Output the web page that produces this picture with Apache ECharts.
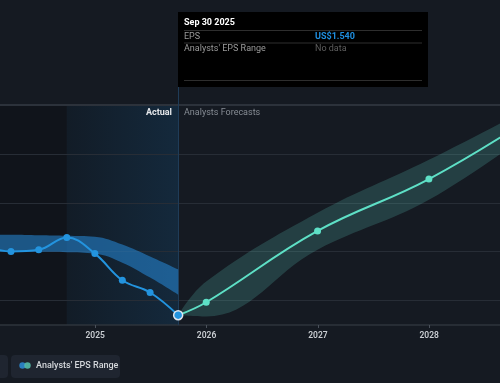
<!DOCTYPE html>
<html>
<head>
<meta charset="utf-8">
<style>
  html, body { margin: 0; padding: 0; background: #151a22; }
  #chart { width: 500px; height: 383px; }
</style>
<script src="https://cdn.jsdelivr.net/npm/echarts@6/dist/echarts.min.js"></script>
</head>
<body>
<div id="chart"></div>
<script>
// ---- data ----
const actualDates = ['2023-12-31', '2024-03-31', '2024-06-30', '2024-09-30', '2024-12-31', '2025-03-31', '2025-06-30', '2025-09-30'];
const actualEps   = [1.825, 1.801, 1.808, 1.858, 1.792, 1.683, 1.633, 1.540];
const pastRangeLow  = [1.800, 1.800, 1.800, 1.798, 1.792, 1.755, 1.694, 1.624];
const pastRangeHigh = [1.869, 1.869, 1.867, 1.865, 1.861, 1.829, 1.780, 1.727];

const forecastDates = ['2025-09-30', '2025-12-31', '2026-12-31', '2027-12-31', '2028-12-31'];
const forecastEps   = [1.540, 1.593, 1.885, 2.097, 2.372];
const forecastLow   = [1.540, 1.535, 1.808, 2.012, 2.318];
const forecastHigh  = [1.540, 1.678, 1.959, 2.176, 2.412];

const gridValues = [1.6, 1.8, 2.0, 2.2];
const topGridValue = 2.4;
const xStart = '2024-02-24';
const xEnd = '2028-08-20';
const ltmStart = '2024-09-30';
const selectedDate = '2025-09-30';

// ---- helpers ----
const pairs = (d, v) => d.map((x, i) => [x, v[i]]);
const diffs = (hi, lo) => hi.map((h, i) => +(h - lo[i]).toFixed(4));
const monthNames = ['Jan','Feb','Mar','Apr','May','Jun','Jul','Aug','Sep','Oct','Nov','Dec'];
function fmtDate(s) { const p = s.split('-'); return monthNames[+p[1] - 1] + ' ' + (+p[2]) + ' ' + p[0]; }

const FONT = 'Roboto, "Noto Sans", sans-serif';
const BLUE = '#2394df';
const TEAL = '#5ee0c6';

const chart = echarts.init(document.getElementById('chart'), null, { renderer: 'canvas' });

const option = {
  backgroundColor: '#151a22',
  animation: false,
  grid: { left: 0, right: 0, top: 105, bottom: 58 },
  xAxis: {
    type: 'time',
    min: xStart,
    max: xEnd,
    minInterval: 365 * 86400000,
    axisLine: { lineStyle: { color: '#2e343d', width: 1.5 } },
    axisTick: { show: true, length: 3, lineStyle: { color: '#4a515b' } },
    axisLabel: { formatter: '{yyyy}', color: '#c9cdd2', fontSize: 8.5, fontWeight: 600, fontFamily: FONT, margin: 6, showMinLabel: false, showMaxLabel: false },
    splitLine: { show: false }
  },
  yAxis: {
    type: 'value', min: 1.5, max: 2.4, show: false, splitLine: { show: false }
  },
  series: [
    { // background shading (past / last twelve months)
      type: 'line', data: [], z: 0, silent: true,
      markArea: {
        silent: true, z: 0,
        data: [
          [{ xAxis: xStart, itemStyle: { color: 'rgba(0,0,0,0.2)' } }, { xAxis: ltmStart }],
          [{ xAxis: ltmStart, itemStyle: { color: new echarts.graphic.LinearGradient(0, 0, 1, 0, [
              { offset: 0, color: '#121c27' }, { offset: 1, color: '#14293c' }]) } },
           { xAxis: selectedDate }]
        ]
      }
    },
    { // horizontal gridlines and selected-date line
      type: 'line', data: [], z: 1, silent: true,
      markLine: {
        silent: true, symbol: 'none', label: { show: false }, z: 1,
        lineStyle: { color: '#272d36', width: 1, type: 'solid' },
        data: gridValues.map(v => ({ yAxis: v }))
          .concat([{ yAxis: topGridValue, lineStyle: { color: '#2c323b', width: 2, type: 'solid' } }])
          .concat([{ xAxis: selectedDate, lineStyle: { color: '#1f3c58', width: 1, type: 'solid' } }])
      }
    },
    { // past analysts range lower (invisible)
      name: 'pastLow', type: 'line', stack: 'past', smooth: 0.4, symbol: 'none', z: 3,
      data: pairs(actualDates, pastRangeLow), lineStyle: { opacity: 0 }
    },
    { // past analysts range band
      name: "Analysts' EPS Range", type: 'line', stack: 'past', smooth: 0.4, symbol: 'none', z: 3,
      data: pairs(actualDates, diffs(pastRangeHigh, pastRangeLow)),
      lineStyle: { opacity: 0 },
      areaStyle: { color: 'rgba(36,130,205,0.6)', opacity: 1 }
    },
    { // forecast range lower (invisible)
      name: 'fcLow', type: 'line', stack: 'fc', smooth: 0.4, symbol: 'none', z: 3,
      data: pairs(forecastDates, forecastLow), lineStyle: { opacity: 0 }
    },
    { // forecast range band
      name: 'fcBand', type: 'line', stack: 'fc', smooth: 0.4, symbol: 'none', z: 3,
      data: pairs(forecastDates, diffs(forecastHigh, forecastLow)),
      lineStyle: { opacity: 0 },
      areaStyle: { color: 'rgba(100,215,200,0.2)', opacity: 1 }
    },
    { // forecast EPS line
      name: 'Forecast', type: 'line', smooth: 0.4, z: 10,
      data: pairs(forecastDates, forecastEps),
      symbol: 'circle', symbolSize: 7, showSymbol: true,
      lineStyle: { color: TEAL, width: 2 },
      itemStyle: { color: TEAL }
    },
    { // actual EPS line
      name: 'EPS', type: 'line', smooth: 0.4, z: 11,
      data: pairs(actualDates, actualEps).map((p, i, arr) => i === arr.length - 1
        ? { value: p, symbolSize: 9, itemStyle: { color: BLUE, borderColor: '#dfe6ee', borderWidth: 1.5 } }
        : { value: p }),
      symbol: 'circle', symbolSize: 7, showSymbol: true,
      lineStyle: { color: BLUE, width: 2 },
      itemStyle: { color: BLUE }
    }
  ],
  graphic: {
    elements: [
    // section labels
    { type: 'text', z: 100, x: 172, y: 113, style: { text: 'Actual', fill: '#e6e8eb', font: `bold 9px ${FONT}`, align: 'right', verticalAlign: 'middle' } },
    { type: 'text', z: 100, x: 184, y: 113, style: { text: 'Analysts Forecasts', fill: '#868c94', font: `9px ${FONT}`, align: 'left', verticalAlign: 'middle' } },
    // pointer line above grid
    { type: 'line', z: 100, shape: { x1: 178.5, y1: 87, x2: 178.5, y2: 105 }, style: { stroke: '#1f3c58', lineWidth: 1 } },
    // tooltip
    { type: 'rect', z: 100, shape: { x: 178, y: 12, width: 250, height: 75 }, style: { fill: '#000000' } },
    { type: 'text', z: 101, x: 184, y: 23, style: { text: fmtDate(selectedDate), fill: '#ffffff', font: `bold 9px ${FONT}`, verticalAlign: 'middle' } },
    { type: 'line', z: 101, shape: { x1: 184, y1: 30.5, x2: 422, y2: 30.5 }, style: { stroke: '#2e2e2e', lineWidth: 1 } },
    { type: 'text', z: 101, x: 184, y: 36.5, style: { text: 'EPS', fill: '#9a9a9a', font: `9px ${FONT}`, verticalAlign: 'middle' } },
    { type: 'text', z: 101, x: 315, y: 36.5, style: { text: 'US$' + actualEps[actualEps.length - 1].toFixed(3), fill: '#1f8fe0', font: `bold 9px ${FONT}`, verticalAlign: 'middle' } },
    { type: 'line', z: 101, shape: { x1: 184, y1: 43, x2: 422, y2: 43 }, style: { stroke: '#2e2e2e', lineWidth: 1 } },
    { type: 'text', z: 101, x: 184, y: 49, style: { text: "Analysts' EPS Range", fill: '#9a9a9a', font: `9px ${FONT}`, verticalAlign: 'middle' } },
    { type: 'text', z: 101, x: 315, y: 49, style: { text: 'No data', fill: '#5e5e5e', font: `9px ${FONT}`, verticalAlign: 'middle' } },
    { type: 'line', z: 101, shape: { x1: 184, y1: 80.5, x2: 422, y2: 80.5 }, style: { stroke: '#2e2e2e', lineWidth: 1 } },
    // legend buttons
    { type: 'rect', z: 100, shape: { x: -60, y: 355, width: 68, height: 23, r: 4 }, style: { fill: '#1f2530' } },
    { type: 'rect', z: 100, shape: { x: 11, y: 355, width: 109, height: 23, r: 4 }, style: { fill: '#1f2530' } },
    { type: 'circle', z: 101, shape: { cx: 22.5, cy: 365.5, r: 3.2 }, style: { fill: '#2a7fc0' } },
    { type: 'circle', z: 101, shape: { cx: 27.5, cy: 365.5, r: 3.2 }, style: { fill: 'rgba(84,190,170,0.9)' } },
    { type: 'text', z: 101, x: 36, y: 366, style: { text: "Analysts' EPS Range", fill: '#d4d7db', font: `500 9px ${FONT}`, verticalAlign: 'middle' } }
    ]
  }
};

chart.setOption(option);
</script>
</body>
</html>
